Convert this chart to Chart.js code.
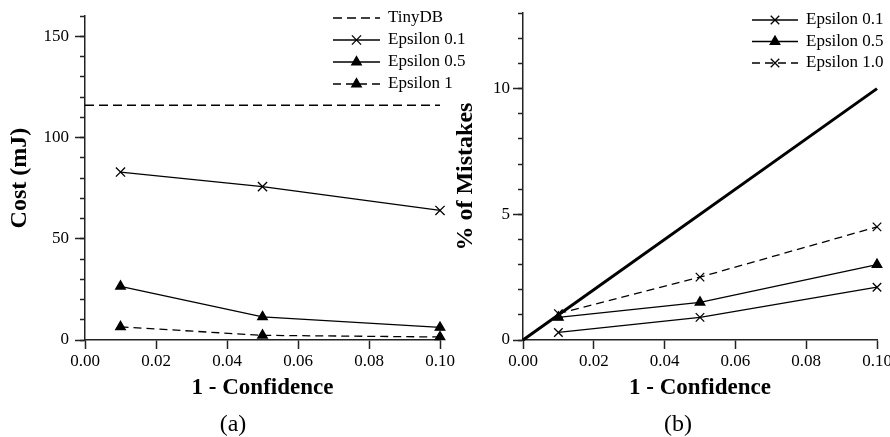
<!DOCTYPE html>
<html>
<head>
<meta charset="utf-8">
<script src="https://cdn.jsdelivr.net/npm/chart.js@4/dist/chart.umd.min.js"></script>
<style>
  html, body { margin: 0; padding: 0; background: #fff; }
  #wrap { position: relative; width: 890px; height: 437px; overflow: hidden; }
  canvas { position: absolute; top: 0; }
  #costChart { left: 0; }
  #mistakeChart { left: 445px; }
  .sub { position: absolute; top: 410px; width: 60px; margin-left: -30px; text-align: center;
         font: 24px "Liberation Serif", "Times New Roman", serif; line-height: 26px; color: #000; }
</style>
</head>
<body>
<div id="wrap">
  <canvas id="costChart" width="520" height="437"></canvas>
  <canvas id="mistakeChart" width="470" height="437"></canvas>
  <div class="sub" style="left:233px">(a)</div>
  <div class="sub" style="left:678px">(b)</div>
</div>
<script>
// x values (1 - confidence)
const confidence = [0.01, 0.05, 0.10];
const xTickValues = [0, 0.02, 0.04, 0.06, 0.08, 0.10];

// panel (a): energy cost in mJ
const tinyDbX = [0, 0.10];
const tinyDbCost = [116, 116];
const costEps01 = [83, 75.8, 64];
const costEps05 = [26.5, 11.4, 6.2];
const costEps1 = [6.5, 2.3, 1.5];
const costTickValues = [0, 50, 100, 150];

// panel (b): % of mistakes
const idealX = [0, 0.10];
const idealMistakes = [0, 10];
const mistakesEps01 = [0.3, 0.9, 2.1];
const mistakesEps05 = [0.9, 1.5, 3.0];
const mistakesEps10 = [1.05, 2.5, 4.5];
const mistakeTickValues = [0, 5, 10];

const FONT = '"Liberation Serif", "Times New Roman", serif';
Chart.defaults.font.family = FONT;
Chart.defaults.font.size = 17;
Chart.defaults.color = '#000';

const toPoints = (xs, ys) => xs.map((x, i) => ({ x: x, y: ys[i] }));

function series(label, xs, ys, style) {
    return Object.assign({
        label: label,
        data: toPoints(xs, ys),
        borderColor: '#000',
        backgroundColor: '#000',
        borderWidth: 1.3,
        pointStyle: 'crossRot',
        pointRadius: 0,
        pointBackgroundColor: '#000',
        pointBorderColor: '#000',
        pointBorderWidth: 1.3,
        tension: 0,
        fill: false,
        clip: false
    }, style);
}

// legend with a line sample + marker, drawn from the dataset styles
const sampleLegend = {
    id: 'sampleLegend',
    afterDraw(chart, args, opts) {
        const ctx = chart.ctx;
        let y = opts.top;
        chart.data.datasets.forEach(ds => {
            if (!ds.label) return;
            ctx.save();
            ctx.strokeStyle = ds.borderColor;
            ctx.lineWidth = ds.borderWidth;
            ctx.setLineDash(ds.borderDash || []);
            ctx.beginPath();
            ctx.moveTo(opts.left, y);
            ctx.lineTo(opts.left + opts.lineLength, y);
            ctx.stroke();
            ctx.setLineDash([]);
            if (ds.pointRadius > 0) {
                ctx.fillStyle = ds.pointBackgroundColor;
                ctx.strokeStyle = ds.pointBorderColor;
                ctx.lineWidth = ds.pointBorderWidth;
                Chart.helpers.drawPoint(ctx, {
                    pointStyle: ds.pointStyle, radius: ds.pointRadius,
                    rotation: 0, borderWidth: ds.pointBorderWidth
                }, opts.left + opts.lineLength / 2, y);
            }
            ctx.fillStyle = '#000';
            ctx.font = opts.font;
            ctx.textBaseline = 'middle';
            ctx.textAlign = 'left';
            ctx.fillText(ds.label, opts.left + opts.lineLength + opts.gap, y);
            ctx.restore();
            y += opts.rowHeight;
        });
    }
};

function buildOptions(cfg) {
    return {
        responsive: false,
        animation: false,
        layout: { padding: { top: 13, bottom: 35, left: 0, right: cfg.padRight } },
        plugins: {
            legend: { display: false },
            tooltip: { enabled: false },
            sampleLegend: cfg.legend
        },
        scales: {
            x: {
                type: 'linear',
                min: 0,
                max: 0.10,
                afterBuildTicks: s => { s.ticks = xTickValues.map(v => ({ value: v })); },
                afterFit: s => { s.height = 62; },
                ticks: { padding: 2, callback: v => v.toFixed(2), maxRotation: 0 },
                grid: { drawOnChartArea: false, tickLength: 9, tickColor: '#222', tickWidth: 1.5 },
                border: { color: '#222', width: 1.5 },
                title: {
                    display: true, text: '1 - Confidence',
                    font: { size: 23, weight: 'bold', family: FONT }, padding: 0
                }
            },
            y: {
                type: 'linear',
                position: 'left',
                weight: 10,
                min: 0,
                max: cfg.yMax,
                afterBuildTicks: s => { s.ticks = cfg.yTicks.map(v => ({ value: v })); },
                afterFit: s => { s.width = cfg.axisWidth; },
                ticks: { padding: cfg.tickPad },
                grid: { drawOnChartArea: false, tickLength: 10, tickColor: '#222', tickWidth: 1.5 },
                border: { color: '#222', width: 1.5 },
                title: {
                    display: true, text: cfg.yTitle,
                    font: { size: 24, weight: 'bold', family: FONT },
                    padding: { top: cfg.titlePad, bottom: 0 }
                }
            },
            yMinor: {
                type: 'linear',
                position: 'left',
                weight: 0,
                min: 0,
                max: cfg.yMax,
                ticks: { display: false, stepSize: cfg.minorStep },
                afterFit: s => { s.width = 0; },
                grid: { drawOnChartArea: false, tickLength: 5, tickColor: '#222', tickWidth: 1.5 },
                border: { display: false }
            }
        }
    };
}

new Chart(document.getElementById('costChart'), {
    type: 'line',
    data: {
        datasets: [
            series('TinyDB', tinyDbX, tinyDbCost, { borderDash: [9, 5] }),
            series('Epsilon 0.1', confidence, costEps01, { pointRadius: 6.5 }),
            series('Epsilon 0.5', confidence, costEps05, { pointStyle: 'triangle', pointRadius: 5.5 }),
            series('Epsilon 1', confidence, costEps1, { pointStyle: 'triangle', pointRadius: 5.5, borderDash: [8, 5] })
        ]
    },
    options: buildOptions({
        padRight: 80, yMax: 160, yTicks: costTickValues, minorStep: 10,
        axisWidth: 85, tickPad: 6, titlePad: 5, yTitle: 'Cost (mJ)',
        legend: { left: 333, top: 18, lineLength: 47, gap: 8, rowHeight: 22, font: '17px ' + FONT }
    }),
    plugins: [sampleLegend]
});

new Chart(document.getElementById('mistakeChart'), {
    type: 'line',
    data: {
        datasets: [
            series('', idealX, idealMistakes, { borderWidth: 3 }),
            series('Epsilon 0.1', confidence, mistakesEps01, { pointRadius: 6 }),
            series('Epsilon 0.5', confidence, mistakesEps05, { pointStyle: 'triangle', pointRadius: 5.5 }),
            series('Epsilon 1.0', confidence, mistakesEps10, { pointRadius: 6, borderDash: [8, 5] })
        ]
    },
    options: buildOptions({
        padRight: 38, yMax: 13, yTicks: mistakeTickValues, minorStep: 1,
        axisWidth: 78, tickPad: 3, titlePad: 6, yTitle: '% of Mistakes',
        legend: { left: 307, top: 20, lineLength: 46, gap: 8, rowHeight: 21.5, font: '17px ' + FONT }
    }),
    plugins: [sampleLegend]
});
</script>
</body>
</html>
